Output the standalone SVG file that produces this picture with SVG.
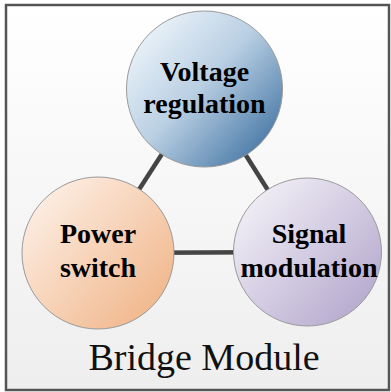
<svg xmlns="http://www.w3.org/2000/svg" width="391" height="392" viewBox="0 0 391 392">
<defs>
<linearGradient id="bg" x1="0" y1="0" x2="0" y2="1"><stop offset="0" stop-color="#ffffff"/><stop offset="1" stop-color="#eeeeee"/></linearGradient>
<linearGradient id="gBlue" x1="0.15" y1="0.15" x2="0.9" y2="0.85"><stop offset="0" stop-color="#e6eff7"/><stop offset="0.45" stop-color="#b9cfe3"/><stop offset="1" stop-color="#4d7ca9"/></linearGradient>
<linearGradient id="gOrange" x1="0.15" y1="0.15" x2="0.9" y2="0.85"><stop offset="0" stop-color="#fcebdf"/><stop offset="1" stop-color="#f1b88d"/></linearGradient>
<linearGradient id="gPurple" x1="0.15" y1="0.15" x2="0.9" y2="0.85"><stop offset="0" stop-color="#eeebf4"/><stop offset="1" stop-color="#b7abcf"/></linearGradient>
<style>
.node{stroke:#9a9a9a;stroke-width:1}
.lbl{font-family:"Liberation Serif","Times New Roman",serif;font-weight:bold;font-size:28px;fill:#000;text-anchor:middle}
.conn{stroke:#444;stroke-width:4.5;fill:none}
.title{font-family:"Liberation Serif","Times New Roman",serif;font-size:38px;fill:#111;text-anchor:middle}
</style>
</defs>
<rect x="6" y="5" width="383" height="385" fill="url(#bg)" stroke="#555" stroke-width="2.5"/>
<g id="connectors">
<line class="conn" x1="204" y1="89" x2="98" y2="253"/>
<line class="conn" x1="204" y1="89" x2="307" y2="252"/>
<line class="conn" x1="98" y1="253" x2="307" y2="252"/>
</g>
<g id="voltage">
<circle class="node" cx="204.5" cy="89" r="78" fill="url(#gBlue)"/>
<text class="lbl" x="204.5" y="81">Voltage</text>
<text class="lbl" x="204.5" y="113">regulation</text>
</g>
<g id="power">
<circle class="node" cx="98" cy="253" r="76" fill="url(#gOrange)"/>
<text class="lbl" x="98" y="243">Power</text>
<text class="lbl" x="98" y="277">switch</text>
</g>
<g id="signal">
<circle class="node" cx="307.5" cy="252" r="74" fill="url(#gPurple)"/>
<text class="lbl" x="309" y="243">Signal</text>
<text class="lbl" x="309" y="277">modulation</text>
</g>
<text class="title" x="204" y="370">Bridge Module</text>
</svg>
